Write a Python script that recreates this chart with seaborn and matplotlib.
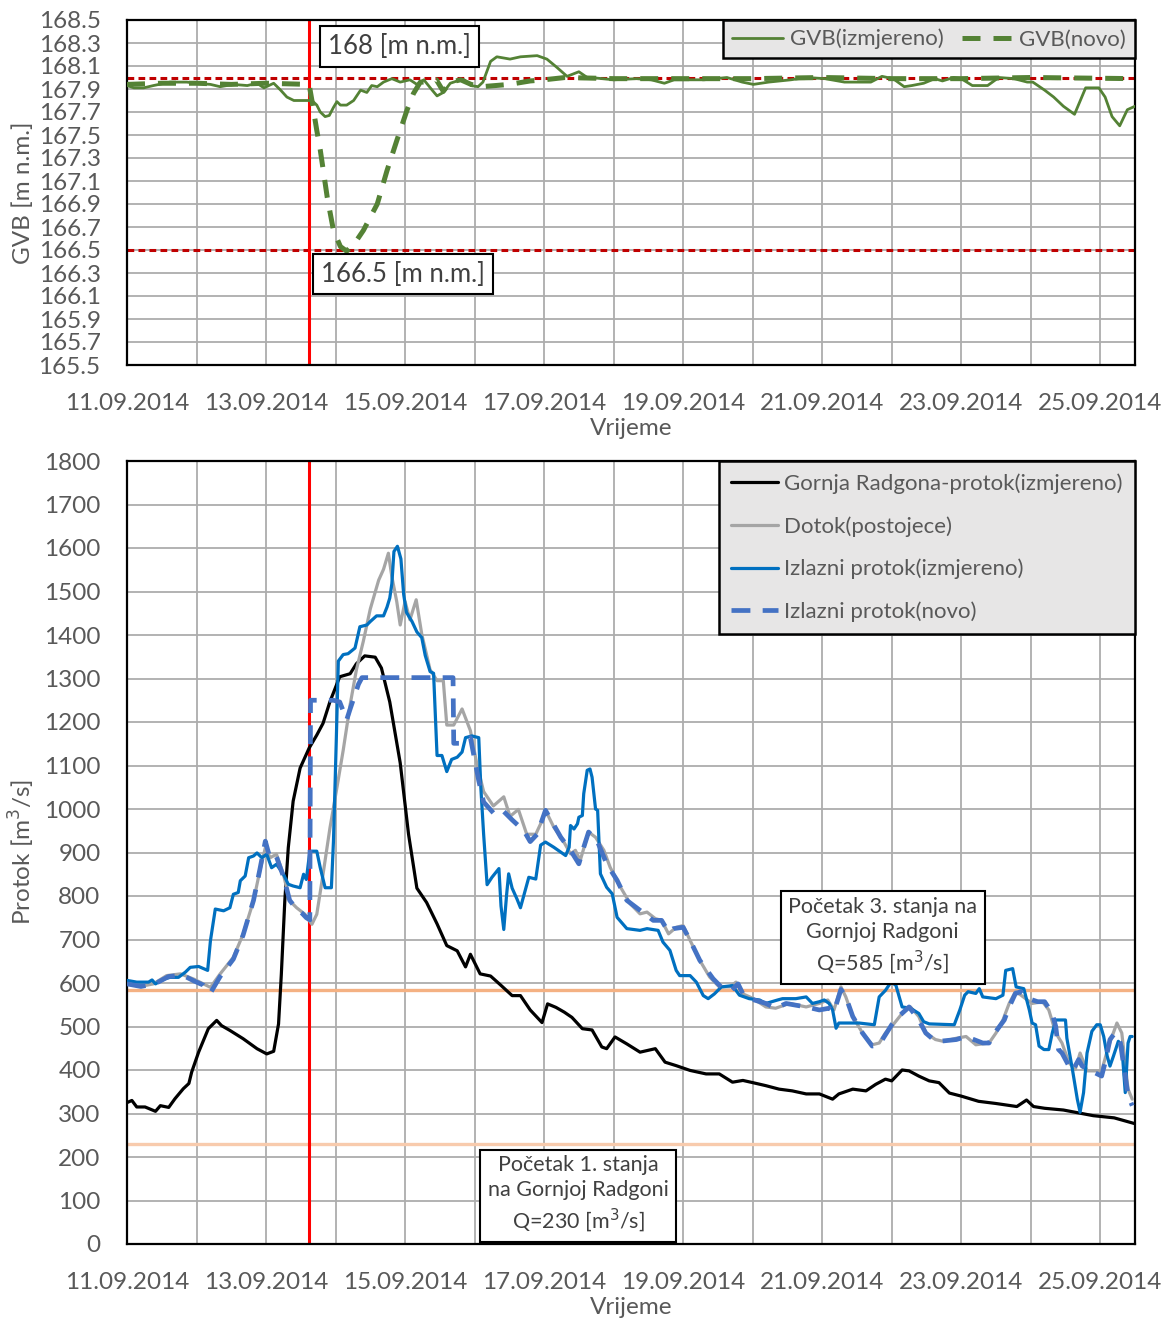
import numpy as np
import pandas as pd
import matplotlib
matplotlib.use("Agg")
import matplotlib.pyplot as plt
import seaborn as sns

# ---------------- data (days since 11.09.2014 00:00) ----------------
x_tick_labels = ["11.09.2014", "13.09.2014", "15.09.2014", "17.09.2014",
                 "19.09.2014", "21.09.2014", "23.09.2014", "25.09.2014"]
event_day = 2.62

gvb_meas_t = [0, 0.1, 0.24, 0.38, 0.62, 0.86, 1.0, 1.2, 1.34, 1.53, 1.73, 1.87, 1.97, 2.11, 2.21, 2.3, 2.4,
              2.62, 2.66, 2.73, 2.78, 2.85, 2.91, 2.97, 3.02, 3.07, 3.16, 3.26, 3.36, 3.45, 3.52, 3.6, 3.69,
              3.81, 3.93, 4.07, 4.17, 4.27, 4.39, 4.46, 4.55, 4.65, 4.75, 4.85, 4.95, 5.05, 5.12, 5.23, 5.32,
              5.51, 5.66, 5.9, 6.04, 6.18, 6.33, 6.5, 6.62, 6.67, 7.0, 7.33, 7.54, 7.73, 7.87, 8.09, 8.3,
              8.63, 8.85, 9.01, 9.23, 9.55, 9.77, 10.04, 10.32, 10.7, 10.86, 11.02, 11.18, 11.29, 11.46,
              11.62, 11.73, 11.89, 12.0, 12.16, 12.38, 12.54, 12.76, 12.95, 13.03, 13.2, 13.33, 13.47,
              13.63, 13.79, 13.98, 14.07, 14.17, 14.28, 14.39, 14.5]
gvb_meas_v = [167.93, 167.91, 167.91, 167.93, 167.96, 167.96, 167.95, 167.94, 167.92, 167.94, 167.93, 167.95,
              167.91, 167.95, 167.89, 167.83, 167.80, 167.80, 167.80, 167.76, 167.70, 167.66, 167.67, 167.74,
              167.79, 167.76, 167.76, 167.80, 167.89, 167.87, 167.93, 167.92, 167.96, 167.99, 167.96, 167.98,
              167.94, 167.98, 167.89, 167.84, 167.87, 167.95, 167.97, 167.98, 167.93, 167.92, 167.96, 168.14,
              168.18, 168.16, 168.18, 168.19, 168.16, 168.09, 168.01, 168.05, 168.00, 168.00, 167.98, 167.99,
              167.98, 167.95, 167.98, 167.98, 167.98, 168.00, 167.96, 167.94, 167.96, 167.98, 168.00, 167.99,
              167.96, 167.96, 168.01, 167.99, 167.92, 167.93, 167.95, 167.99, 167.97, 168.00, 167.99, 167.93,
              167.93, 168.00, 167.99, 167.96, 167.96, 167.89, 167.83, 167.75, 167.68, 167.91, 167.91, 167.83,
              167.66, 167.58, 167.72, 167.75]

gvb_new_t = [0, 0.5, 1.0, 1.5, 2.0, 2.62, 2.66, 2.73, 2.78, 2.88, 2.97, 3.07, 3.16, 3.31, 3.4, 3.6, 3.74,
             3.88, 4.03, 4.12, 4.22, 4.31, 4.45, 4.55, 4.65, 4.8, 4.95, 5.1, 5.3, 5.5, 5.8, 6.0, 6.3, 7.0,
             8.0, 9.0, 10.0, 11.0, 12.0, 13.0, 14.5]
gvb_new_v = [167.94, 167.95, 167.95, 167.94, 167.95, 167.94, 167.80, 167.54, 167.37, 166.96, 166.67, 166.53,
             166.49, 166.59, 166.67, 166.90, 167.19, 167.45, 167.72, 167.86, 167.96, 167.96, 167.98, 167.88,
             167.96, 167.98, 167.94, 167.92, 167.93, 167.94, 167.97, 167.98, 168.00, 167.99, 167.99, 167.99,
             168.00, 167.99, 167.99, 168.00, 167.99]

gr_t = [0, 0.07, 0.14, 0.26, 0.41, 0.48, 0.6, 0.69, 0.81, 0.89, 0.93, 1.03, 1.17, 1.29, 1.36, 1.48, 1.67,
        1.87, 2.01, 2.11, 2.18, 2.22, 2.27, 2.32, 2.39, 2.49, 2.62, 2.73, 2.82, 2.92, 3.06, 3.21, 3.30, 3.42,
        3.57, 3.66, 3.78, 3.93, 4.05, 4.17, 4.31, 4.46, 4.6, 4.75, 4.87, 4.94, 5.08, 5.23, 5.37, 5.54, 5.66,
        5.8, 5.97, 6.05, 6.17, 6.29, 6.4, 6.55, 6.69, 6.83, 6.9, 7.02, 7.19, 7.38, 7.6, 7.74, 7.9, 8.1, 8.33,
        8.52, 8.71, 8.86, 9.0, 9.19, 9.38, 9.57, 9.77, 9.96, 10.15, 10.24, 10.44, 10.63, 10.77, 10.91, 11.0,
        11.15, 11.25, 11.39, 11.54, 11.68, 11.83, 12.0, 12.25, 12.5, 12.8, 12.94, 13.04, 13.2, 13.47, 13.7,
        13.9, 14.2, 14.49]
gr_v = [325, 330, 315, 315, 305, 318, 314, 334, 357, 369, 395, 441, 495, 514, 502, 491, 472, 449, 437, 443,
        506, 620, 789, 911, 1018, 1094, 1140, 1170, 1197, 1247, 1304, 1311, 1334, 1352, 1349, 1324, 1246, 1106,
        942, 818, 785, 736, 686, 674, 637, 666, 621, 616, 596, 571, 571, 538, 509, 552, 544, 533, 521, 495, 492,
        453, 449, 476, 460, 441, 449, 418, 410, 399, 391, 391, 372, 376, 371, 364, 356, 352, 345, 345, 333, 345,
        356, 352, 367, 379, 375, 400, 398, 386, 375, 371, 347, 340, 328, 323, 316, 331, 316, 312, 308, 301, 295,
        290, 277]

dotok_t = [0, 0.19, 0.38, 0.57, 0.77, 0.96, 1.1, 1.2, 1.34, 1.53, 1.67, 1.82, 1.91, 1.99, 2.06, 2.15, 2.25,
           2.34, 2.44, 2.56, 2.66, 2.73, 2.82, 2.92, 3.01, 3.11, 3.21, 3.30, 3.4, 3.5, 3.62, 3.69, 3.76, 3.81,
           3.88, 3.93, 4.0, 4.07, 4.16, 4.24, 4.36, 4.46, 4.55, 4.6, 4.7, 4.82, 4.94, 5.03, 5.13, 5.27, 5.42,
           5.51, 5.63, 5.75, 5.88, 5.95, 6.02, 6.14, 6.26, 6.38, 6.45, 6.52, 6.64, 6.74, 6.86, 6.95, 7.1, 7.24,
           7.38, 7.48, 7.6, 7.69, 7.79, 7.9, 8.0, 8.1, 8.24, 8.38, 8.52, 8.67, 8.76, 8.86, 9.0, 9.19, 9.33,
           9.53, 9.77, 9.96, 10.08, 10.17, 10.27, 10.34, 10.44, 10.58, 10.72, 10.82, 10.91, 11.0, 11.15, 11.27,
           11.39, 11.49, 11.63, 11.74, 11.93, 12.07, 12.21, 12.4, 12.5, 12.6, 12.69, 12.78, 12.86, 12.95, 13.02,
           13.17, 13.26, 13.36, 13.45, 13.55, 13.64, 13.71, 13.81, 14.02, 14.12, 14.24, 14.31, 14.4, 14.46]
dotok_v = [598, 592, 598, 617, 621, 609, 598, 590, 621, 659, 712, 789, 857, 911, 888, 896, 850, 789, 773, 758,
           735, 758, 850, 957, 1040, 1135, 1240, 1320, 1386, 1460, 1526, 1551, 1588, 1534, 1477, 1423, 1477, 1435,
           1481, 1402, 1320, 1295, 1295, 1193, 1193, 1230, 1180, 1106, 1040, 1007, 1028, 983, 999, 942, 942, 966,
           997, 958, 931, 897, 905, 882, 947, 935, 905, 866, 820, 782, 759, 763, 748, 744, 713, 728, 732, 698, 652,
           614, 591, 591, 602, 575, 565, 545, 542, 553, 545, 553, 561, 538, 591, 568, 523, 485, 458, 462, 485, 500,
           530, 545, 523, 485, 470, 466, 473, 477, 458, 462, 485, 515, 553, 580, 572, 561, 553, 557, 538, 485, 462,
           417, 401, 439, 398, 398, 455, 508, 485, 356, 333]

izl_t = [0, 0.14, 0.31, 0.36, 0.41, 0.53, 0.62, 0.74, 0.84, 0.91, 1.03, 1.16, 1.2, 1.27, 1.39, 1.48, 1.53, 1.6,
         1.63, 1.7, 1.75, 1.82, 1.87, 1.94, 2.01, 2.08, 2.15, 2.25, 2.32, 2.39, 2.49, 2.54, 2.58, 2.63, 2.73,
         2.78, 2.85, 2.94, 2.97, 3.01, 3.04, 3.11, 3.18, 3.28, 3.35, 3.45, 3.5, 3.59, 3.69, 3.74, 3.78, 3.81,
         3.84, 3.89, 3.94, 3.98, 4.02, 4.1, 4.17, 4.24, 4.29, 4.36, 4.41, 4.46, 4.53, 4.6, 4.67, 4.75, 4.82,
         4.87, 4.96, 5.06, 5.09, 5.13, 5.18, 5.25, 5.35, 5.38, 5.42, 5.46, 5.49, 5.54, 5.61, 5.66, 5.71, 5.78,
         5.88, 5.95, 6.02, 6.14, 6.31, 6.36, 6.38, 6.43, 6.48, 6.5, 6.55, 6.57, 6.62, 6.66, 6.69, 6.74, 6.77,
         6.81, 6.9, 6.98, 7.05, 7.19, 7.38, 7.48, 7.64, 7.71, 7.81, 7.9, 7.95, 8.1, 8.19, 8.29, 8.36, 8.45,
         8.55, 8.71, 8.81, 8.95, 9.1, 9.19, 9.36, 9.43, 9.62, 9.77, 9.86, 9.96, 10.03, 10.1, 10.15, 10.2, 10.24,
         10.53, 10.75, 10.82, 10.91, 10.99, 11.06, 11.15, 11.27, 11.39, 11.46, 11.54, 11.9, 11.98, 12.05, 12.1,
         12.21, 12.26, 12.31, 12.5, 12.6, 12.64, 12.74, 12.79, 12.9, 12.98, 13.02, 13.07, 13.12, 13.19, 13.26,
         13.31, 13.36, 13.5, 13.52, 13.6, 13.67, 13.71, 13.76, 13.81, 13.88, 13.95, 14.0, 14.05, 14.1, 14.14,
         14.19, 14.26, 14.31, 14.36, 14.4, 14.43, 14.46]
izl_v = [606, 602, 602, 607, 598, 609, 613, 613, 625, 636, 638, 629, 697, 770, 766, 773, 804, 808, 835, 846, 888,
         892, 899, 888, 896, 865, 873, 850, 827, 823, 819, 850, 838, 903, 903, 865, 819, 819, 926, 1155, 1340,
         1355, 1357, 1370, 1419, 1423, 1431, 1444, 1444, 1464, 1485, 1518, 1592, 1604, 1575, 1493, 1452, 1431,
         1407, 1394, 1353, 1316, 1312, 1123, 1123, 1086, 1114, 1119, 1131, 1164, 1168, 1164, 1049, 942, 826, 843,
         863, 777, 723, 802, 851, 818, 793, 773, 802, 843, 839, 917, 924, 912, 893, 912, 962, 954, 966, 981, 985,
         1035, 1089, 1092, 1073, 1000, 997, 851, 820, 805, 751, 725, 721, 725, 721, 694, 675, 629, 617, 617, 602,
         571, 564, 575, 591, 594, 572, 564, 561, 553, 561, 564, 564, 568, 553, 557, 561, 553, 538, 496, 508, 508,
         504, 568, 583, 602, 595, 545, 542, 530, 511, 506, 504, 538, 572, 580, 576, 587, 568, 564, 572, 629, 633,
         591, 587, 538, 508, 504, 455, 447, 447, 485, 515, 515, 473, 401, 333, 303, 348, 439, 489, 504, 504, 477,
         432, 409, 432, 466, 455, 348, 462, 477, 477]

novo_t = [0, 0.2, 0.4, 0.6, 0.8, 0.96, 1.1, 1.2, 1.34, 1.53, 1.67, 1.82, 1.91, 1.99, 2.06, 2.15, 2.25, 2.34,
          2.44, 2.52, 2.58, 2.63, 2.64, 2.78, 2.97, 3.06, 3.16, 3.21, 3.33, 3.38, 4.69, 4.70, 4.82, 4.94, 5.06,
          5.13, 5.27, 5.39, 5.54, 5.71, 5.8, 5.9, 6.02, 6.24, 6.38, 6.5, 6.57, 6.64, 6.76, 6.9, 7.05, 7.19, 7.38,
          7.57, 7.69, 7.79, 7.86, 8.0, 8.1, 8.24, 8.43, 8.57, 8.69, 8.79, 8.86, 9.0, 9.19, 9.33, 9.48, 9.62, 9.77,
          9.96, 10.1, 10.17, 10.27, 10.34, 10.44, 10.58, 10.72, 10.82, 10.91, 11.0, 11.1, 11.25, 11.39, 11.49,
          11.63, 11.69, 11.93, 12.07, 12.31, 12.4, 12.5, 12.62, 12.69, 12.78, 12.86, 12.95, 13.1, 13.2, 13.31,
          13.36, 13.4, 13.45, 13.55, 13.6, 13.69, 13.74, 13.83, 14.02, 14.07, 14.14, 14.21, 14.29, 14.36, 14.4,
          14.46]
novo_v = [598, 592, 598, 615, 618, 605, 595, 577, 615, 655, 710, 790, 860, 926, 885, 890, 845, 790, 770, 760, 750,
          745, 1250, 1250, 1250, 1246, 1205, 1230, 1287, 1302, 1302, 1151, 1151, 1164, 1065, 1016, 991, 999, 975,
          950, 925, 942, 997, 935, 905, 874, 912, 947, 928, 874, 836, 790, 767, 744, 744, 717, 725, 728, 698, 652,
          610, 587, 583, 598, 575, 562, 553, 542, 553, 549, 545, 538, 542, 534, 585, 568, 523, 485, 455, 458, 481,
          504, 523, 545, 515, 485, 466, 466, 470, 477, 462, 462, 489, 515, 545, 576, 580, 565, 557, 557, 530, 500,
          447, 439, 409, 398, 424, 409, 401, 386, 417, 470, 485, 462, 386, 341, 318]

state1_q = 230
state3_q = 585
gvb_max = 168.0
gvb_min = 166.5

# ---------------- styling ----------------
sns.set_style("white")
plt.rcParams["font.family"] = ["Lato", "DejaVu Sans"]
TXT = "#595959"
GRID = "#ADADAD"

W, H = 1172, 1322
fig = plt.figure(figsize=(W / 100, H / 100), dpi=100)
L, R = 127, 1135
ax1 = fig.add_axes([L / W, 1 - 365 / H, (R - L) / W, 345 / H])
ax2 = fig.add_axes([L / W, 1 - 1244 / H, (R - L) / W, 783 / H])


def line(ax, t, v, **kw):
    df = pd.DataFrame({"t": t, "v": v})
    sns.lineplot(data=df, x="t", y="v", ax=ax, sort=False, estimator=None, **kw)


def style_axes(ax, yticks, fmt):
    ax.set_xlim(0, 14.5)
    ax.set_xticks(np.arange(0, 15, 2))
    ax.set_xticks(np.arange(1, 15, 2), minor=True)
    ax.set_xticklabels(x_tick_labels)
    ax.set_yticks(yticks)
    ax.set_yticklabels([fmt.format(y) for y in yticks])
    ax.grid(True, which="both", axis="x", color=GRID, lw=1.3, zorder=0)
    ax.grid(True, which="major", axis="y", color=GRID, lw=1.3, zorder=0)
    ax.set_axisbelow(True)
    ax.tick_params(axis="both", which="both", length=0, labelsize=17.5, labelcolor=TXT)
    ax.tick_params(axis="x", pad=20)
    ax.tick_params(axis="y", pad=19)
    for s in ax.spines.values():
        s.set_color("black")
        s.set_linewidth(1.6)
    ax.set_xlabel("Vrijeme", fontsize=17.5, color=TXT, labelpad=3)


# ---------------- top: GVB ----------------
yt1 = np.round(np.arange(165.5, 168.51, 0.2), 1)
ax1.set_ylim(165.5, 168.5)
ax1.axhline(gvb_max, color="#C00000", lw=2.2, ls=(0, (2.2, 1.4)), zorder=2)
ax1.axhline(gvb_min, color="#C00000", lw=2.2, ls=(0, (2.2, 1.4)), zorder=2)
ax1.axvline(event_day, color="#FF0000", lw=2.2, zorder=2)
line(ax1, gvb_meas_t, gvb_meas_v, color="#548235", lw=2.0, label="GVB(izmjereno)", zorder=3)
line(ax1, gvb_new_t, gvb_new_v, color="#548235", lw=3.6, ls=(0, (3.6, 2.6)), label="GVB(novo)", zorder=3)
style_axes(ax1, yt1, "{:.1f}")
ax1.set_ylim(165.5, 168.5)
ax1.set_ylabel("GVB [m n.m.]", fontsize=17.5, color=TXT, labelpad=3)

box_kw = dict(boxstyle="square,pad=0.3", fc="white", ec="black", lw=1.5)
ax1.text(3.92, 168.27, "168 [m n.m.]", fontsize=18.5, color="#404040", ha="center", va="center",
         bbox=box_kw, zorder=6)
ax1.text(3.97, 166.29, "166.5 [m n.m.]", fontsize=18.5, color="#404040", ha="center", va="center",
         bbox=box_kw, zorder=6)

leg1 = ax1.legend(loc="upper right", bbox_to_anchor=(1, 1), borderaxespad=0, ncol=2, fontsize=16,
                  frameon=True, fancybox=False, framealpha=1, facecolor="#E7E6E6", edgecolor="black",
                  handlelength=2.3, handletextpad=0.3, columnspacing=0.8, borderpad=0.4)
leg1.get_frame().set_linewidth(1.8)
for t in leg1.get_texts():
    t.set_color(TXT)

# ---------------- bottom: Protok ----------------
yt2 = np.arange(0, 1801, 100)
ax2.axhline(state3_q, color="#F4B183", lw=2.4, zorder=2)
ax2.axhline(state1_q, color="#F8CBAD", lw=2.4, zorder=2)
ax2.axvline(event_day, color="#FF0000", lw=2.2, zorder=2)
line(ax2, gr_t, gr_v, color="black", lw=2.3, label="Gornja Radgona-protok(izmjereno)", zorder=3)
line(ax2, dotok_t, dotok_v, color="#A5A5A5", lw=2.3, label="Dotok(postojece)", zorder=3)
line(ax2, izl_t, izl_v, color="#0070C0", lw=2.3, label="Izlazni protok(izmjereno)", zorder=3)
line(ax2, novo_t, novo_v, color="#4472C4", lw=3.4, ls=(0, (4.0, 2.6)), label="Izlazni protok(novo)", zorder=3)
style_axes(ax2, yt2, "{:d}")
ax2.set_ylim(0, 1800)
ax2.set_ylabel("Protok [m$^3$/s]", fontsize=17.5, color=TXT, labelpad=5)

box_kw2 = dict(boxstyle="square,pad=0.35", fc="white", ec="black", lw=1.5)
ax2.text(6.49, 113, "Početak 1. stanja\nna Gornjoj Radgoni\nQ=230 [m$^3$/s]", fontsize=15.5,
         color="#404040", ha="center", va="center", linespacing=1.3, bbox=box_kw2, zorder=6)
ax2.text(10.87, 707, "Početak 3. stanja na\nGornjoj Radgoni\nQ=585 [m$^3$/s]", fontsize=15.5,
         color="#404040", ha="center", va="center", linespacing=1.3, bbox=box_kw2, zorder=6)

leg2 = ax2.legend(loc="upper right", bbox_to_anchor=(1, 1), borderaxespad=0, ncol=1, fontsize=16,
                  frameon=True, fancybox=False, framealpha=1, facecolor="#E7E6E6", edgecolor="black",
                  handlelength=2.1, handletextpad=0.3, labelspacing=1.0, borderpad=0.55)
leg2.get_frame().set_linewidth(1.8)
for t in leg2.get_texts():
    t.set_color(TXT)

fig.savefig("out.png", dpi=100)
